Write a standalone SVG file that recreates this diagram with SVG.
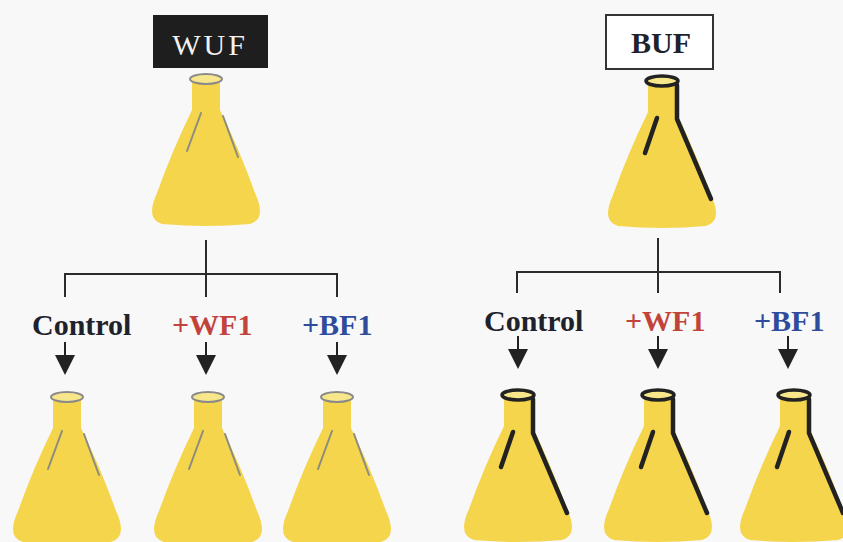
<svg xmlns="http://www.w3.org/2000/svg" xmlns:xlink="http://www.w3.org/1999/xlink" width="843" height="542" viewBox="0 0 843 542">
  <style>
    .lbl { font-family: "Liberation Serif", "Times New Roman", serif; font-weight: bold; font-size: 30px; }
    .ctl { fill: #1d222c; }
    .wf { fill: #c2433b; }
    .bf { fill: #2f4b9c; }
    .tree { fill: none; stroke: #2b2b2b; stroke-width: 2; }
    .body { fill: #f5d54b; }
    .rimW { fill: #f8e78a; stroke: #8a8a8a; stroke-width: 2; }
    .rimB { fill: #f8e78a; stroke: #222; stroke-width: 3.5; }
    .hlW { fill: none; stroke: #8c8c80; stroke-width: 2; stroke-linecap: round; }
    .hlB { fill: none; stroke: #222; stroke-width: 4.5; stroke-linecap: round; stroke-linejoin: round; }
  </style>
  <defs>
    <!-- flask silhouette, origin at the rim centre -->
    <path id="flaskBody" d="M -14,0 L -14,31 Q -34,72 -49,114 Q -61,140 -44,145 Q 0,149 44,145 Q 61,140 49,114 Q 34,72 14,31 L 14,0 Z"/>
    <!-- light flask: grey rim and thin grey highlights -->
    <g id="flaskW">
      <use xlink:href="#flaskBody" class="body"/>
      <ellipse cx="0" cy="0" rx="16" ry="5" class="rimW"/>
      <path d="M -5,34 L -19,72" class="hlW"/>
      <path d="M 17,37 L 32,78" class="hlW"/>
    </g>
    <!-- dark flask: black rim and heavy contour strokes -->
    <g id="flaskB">
      <use xlink:href="#flaskBody" class="body"/>
      <ellipse cx="0" cy="0" rx="16" ry="5" class="rimB"/>
      <path d="M -5,37 L -17,72" class="hlB"/>
      <path d="M 15,4 L 15,38 L 49,118" class="hlB"/>
    </g>
    <g id="arrow">
      <line x1="0" y1="0" x2="0" y2="15" stroke="#222" stroke-width="2"/>
      <polygon points="-10,13 10,13 0,33" fill="#222"/>
    </g>
  </defs>

  <rect width="843" height="542" fill="#f8f8f8"/>

  <!-- connectors -->
  <g id="connectors">
    <path class="tree" d="M 206,240 V 274 M 65,297 V 274 H 337 V 297 M 206,274 V 297"/>
    <path class="tree" d="M 658,238 V 272 M 517,293 V 272 H 780 V 293 M 658,272 V 293"/>
    <use xlink:href="#arrow" x="65" y="342"/>
    <use xlink:href="#arrow" x="206" y="342"/>
    <use xlink:href="#arrow" x="337" y="342"/>
    <use xlink:href="#arrow" x="518" y="336"/>
    <use xlink:href="#arrow" x="658" y="336"/>
    <use xlink:href="#arrow" x="788" y="336"/>
  </g>

  <!-- WUF parent -->
  <g id="wuf">
    <rect x="153" y="15" width="115" height="53" fill="#1e1e1e"/>
    <text x="210" y="55" text-anchor="middle" font-family="'Liberation Serif', serif" font-size="30" letter-spacing="3" fill="#f2f2f2">WUF</text>
    <use xlink:href="#flaskW" x="206" y="79"/>
  </g>

  <!-- BUF parent -->
  <g id="buf">
    <rect x="606" y="15" width="107" height="54" fill="#ffffff" stroke="#333" stroke-width="2"/>
    <text x="661" y="53" text-anchor="middle" class="lbl ctl" font-family="'Liberation Serif', serif" font-size="29">BUF</text>
    <use xlink:href="#flaskB" x="662" y="81"/>
  </g>

  <!-- WUF branches -->
  <g id="wuf-control">
    <text x="32" y="335" class="lbl ctl" font-family="'Liberation Serif', serif">Control</text>
    <use xlink:href="#flaskW" x="67" y="397"/>
  </g>
  <g id="wuf-wf1">
    <text x="172" y="335" class="lbl wf" font-family="'Liberation Serif', serif">+WF1</text>
    <use xlink:href="#flaskW" x="208" y="397"/>
  </g>
  <g id="wuf-bf1">
    <text x="302" y="335" class="lbl bf" font-family="'Liberation Serif', serif">+BF1</text>
    <use xlink:href="#flaskW" x="337" y="397"/>
  </g>

  <!-- BUF branches -->
  <g id="buf-control">
    <text x="484" y="331" class="lbl ctl" font-family="'Liberation Serif', serif">Control</text>
    <use xlink:href="#flaskB" x="518" y="395"/>
  </g>
  <g id="buf-wf1">
    <text x="625" y="331" class="lbl wf" font-family="'Liberation Serif', serif">+WF1</text>
    <use xlink:href="#flaskB" x="658" y="395"/>
  </g>
  <g id="buf-bf1">
    <text x="754" y="331" class="lbl bf" font-family="'Liberation Serif', serif">+BF1</text>
    <use xlink:href="#flaskB" x="794" y="395"/>
  </g>
</svg>
